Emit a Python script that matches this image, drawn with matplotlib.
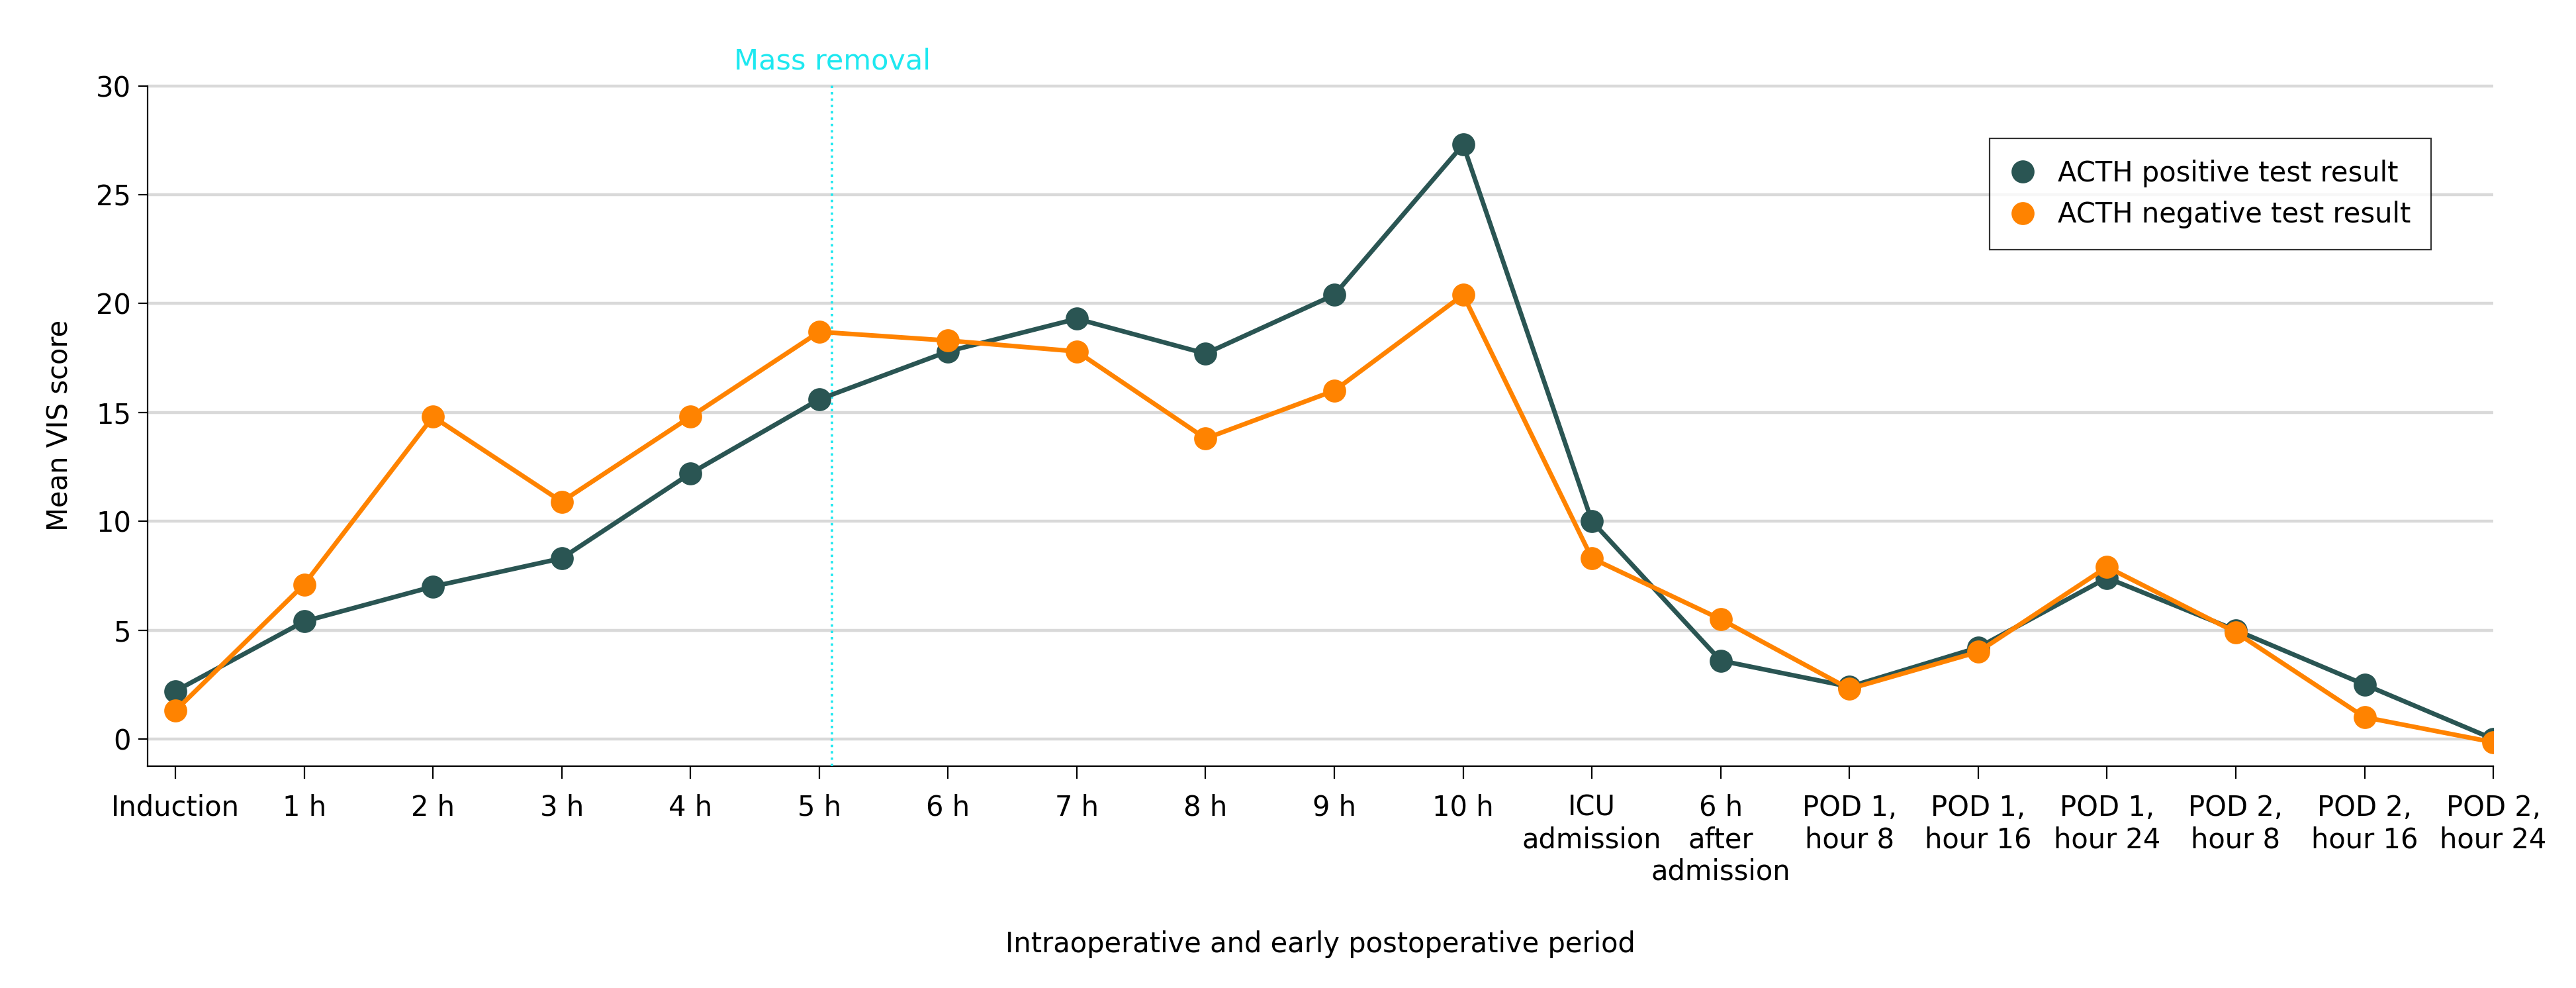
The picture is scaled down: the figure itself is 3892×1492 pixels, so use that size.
import numpy as np
import matplotlib.pyplot as plt

plt.rcParams['font.family'] = ['DejaVu Sans']

labels = ['Induction', '1 h', '2 h', '3 h', '4 h', '5 h', '6 h', '7 h', '8 h', '9 h', '10 h',
          'ICU\nadmission', '6 h\nafter\nadmission', 'POD 1,\nhour 8', 'POD 1,\nhour 16',
          'POD 1,\nhour 24', 'POD 2,\nhour 8', 'POD 2,\nhour 16', 'POD 2,\nhour 24']
acth_pos = [2.2, 5.4, 7.0, 8.3, 12.2, 15.6, 17.8, 19.3, 17.7, 20.4, 27.3,
            10.0, 3.6, 2.4, 4.2, 7.4, 5.0, 2.5, 0.0]
acth_neg = [1.3, 7.1, 14.8, 10.9, 14.8, 18.7, 18.3, 17.8, 13.8, 16.0, 20.4,
            8.3, 5.5, 2.3, 4.0, 7.9, 4.9, 1.0, -0.15]
mass_removal_x = 5.1

teal = '#2a5553'
orange = '#ff8300'
cyan = '#1ee8f0'

fig = plt.figure(figsize=(19.46, 7.46), dpi=200)
ax = fig.add_axes([0.0573, 0.2245, 0.9106, 0.6904])

x = np.arange(len(labels))
ax.plot(x, acth_pos, '-o', color=teal, lw=2.5, ms=11.5, label='ACTH positive test result', zorder=4)
ax.plot(x, acth_neg, '-o', color=orange, lw=2.5, ms=11.5, label='ACTH negative test result', zorder=5)

ax.axvline(mass_removal_x, color=cyan, ls=':', lw=1.3, zorder=3)
ax.text(mass_removal_x, 30.5, 'Mass removal', color=cyan, ha='center', va='bottom', fontsize=15.5)

ax.set_xlim(-0.216, 18)
ax.set_ylim(-1.25, 30.08)
ax.set_yticks([0, 5, 10, 15, 20, 25, 30])
ax.set_xticks(x)
ax.set_xticklabels(labels, va='top', linespacing=1.2)
ax.yaxis.grid(True, color='#d9d9d9', lw=1.6, zorder=0)
ax.set_axisbelow(True)
for s in ['top', 'right']:
    ax.spines[s].set_visible(False)
for s in ['left', 'bottom']:
    ax.spines[s].set_linewidth(0.8)
ax.spines['left'].set_bounds(-1.25, 30)
ax.tick_params(axis='x', length=7, width=0.8, labelsize=15, pad=8)
ax.tick_params(axis='y', length=5, width=0.8, labelsize=15, pad=4)

ax.set_xlabel('Intraoperative and early postoperative period', fontsize=15, labelpad=24)
ax.set_ylabel('Mean VIS score', fontsize=15, labelpad=12)

leg = ax.legend(loc='upper right', bbox_to_anchor=(0.9735, 0.92), fontsize=15, frameon=True,
                fancybox=False, edgecolor='black', handlelength=0.9, handletextpad=0.8,
                borderpad=0.75, labelspacing=0.5, borderaxespad=0)
leg.get_frame().set_linewidth(0.8)
for h in leg.legend_handles:
    h.set_linestyle('')

fig.savefig('out.png', dpi=200)
